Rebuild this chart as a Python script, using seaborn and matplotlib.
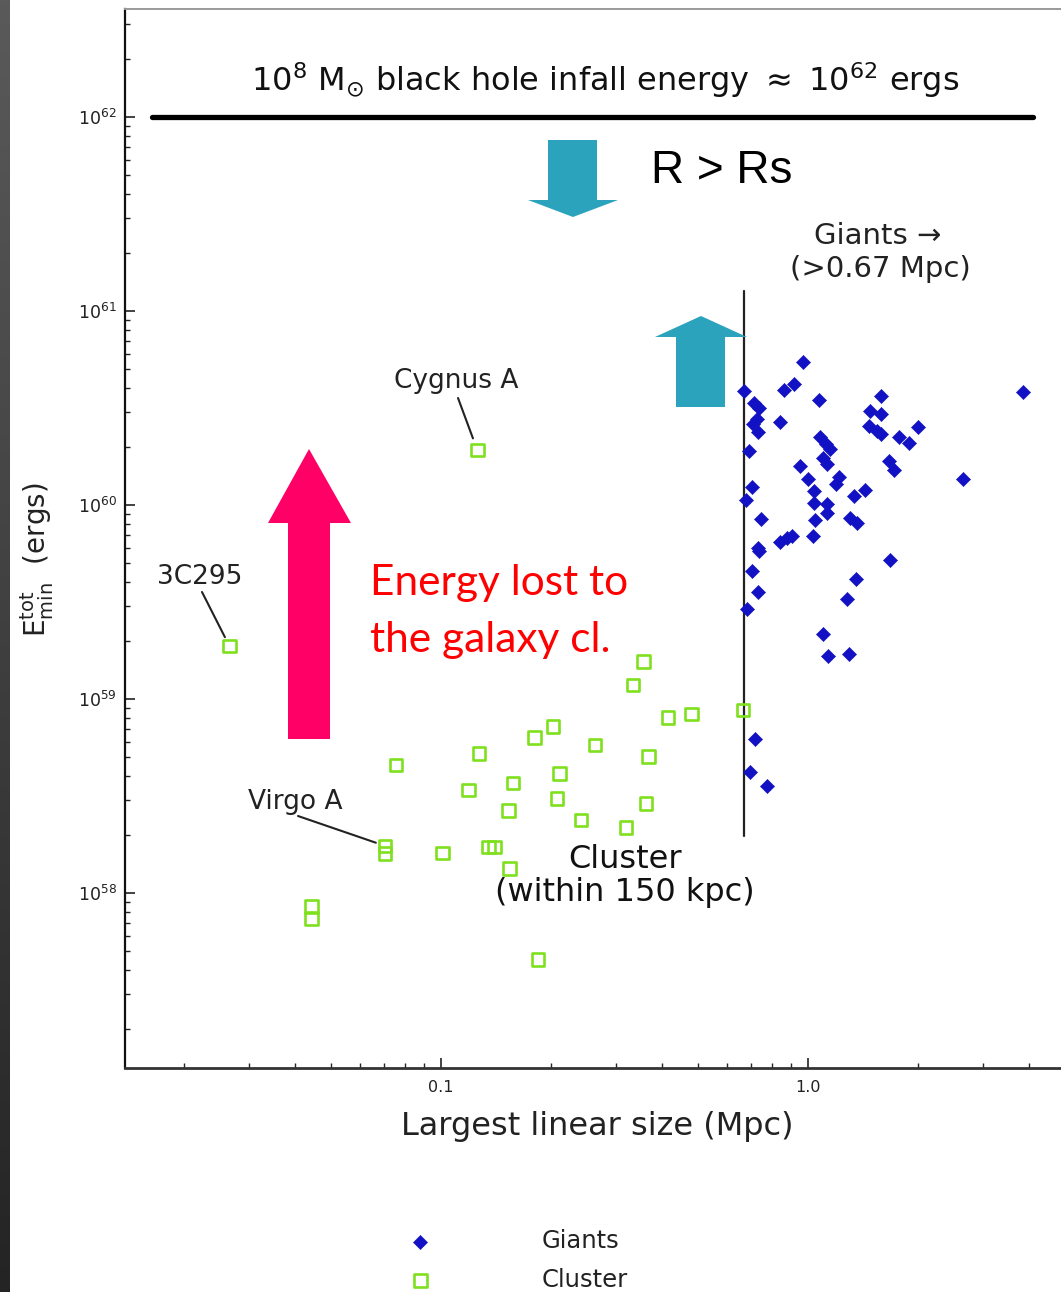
import numpy as np
import pandas as pd
import matplotlib
matplotlib.use("Agg")
import matplotlib.pyplot as plt
import seaborn as sns
from matplotlib.patches import Polygon
from matplotlib.ticker import (FixedLocator, FixedFormatter, LogLocator,
                               NullFormatter, LogFormatterMathtext)

# ---------------- data ----------------
giant_size = [0.97, 0.67, 0.86, 0.916, 1.073, 1.58, 3.86, 0.713, 0.737, 0.725,
              0.71, 0.732, 0.839, 1.48, 1.58, 1.47, 1.54, 1.58, 1.99, 1.77,
              1.89, 1.08, 1.12, 1.15, 0.692, 1.10, 1.13, 0.95, 1.665, 1.715,
              1.217, 1.19, 1.0, 2.65, 0.705, 0.678, 1.04, 1.335, 1.43, 1.04,
              1.125, 1.13, 0.745, 1.045, 1.30, 1.36, 0.839, 0.878, 0.906, 1.03,
              0.73, 0.737, 1.67, 0.702, 1.35, 0.732, 1.28, 0.681, 1.10, 1.136,
              1.29, 0.717, 0.695, 0.775]
giant_energy = [5.45e60, 3.87e60, 3.92e60, 4.2e60, 3.48e60, 3.65e60, 3.81e60, 3.34e60, 3.15e60, 2.77e60,
                2.62e60, 2.37e60, 2.67e60, 3.05e60, 2.93e60, 2.55e60, 2.42e60, 2.32e60, 2.53e60, 2.25e60,
                2.10e60, 2.23e60, 2.06e60, 1.94e60, 1.90e60, 1.74e60, 1.62e60, 1.59e60, 1.69e60, 1.51e60,
                1.40e60, 1.29e60, 1.37e60, 1.36e60, 1.24e60, 1.06e60, 1.18e60, 1.11e60, 1.19e60, 1.02e60,
                1.01e60, 9.06e59, 8.47e59, 8.37e59, 8.54e59, 8.11e59, 6.47e59, 6.78e59, 6.95e59, 6.92e59,
                5.98e59, 5.81e59, 5.21e59, 4.58e59, 4.16e59, 3.57e59, 3.28e59, 2.90e59, 2.16e59, 1.67e59,
                1.71e59, 6.22e58, 4.19e58, 3.57e58]

cluster_names = ["", "", "", "", "", "", "", "", "", "",
                 "", "", "", "", "", "", "", "", "Virgo A", "",
                 "", "", "", "", "", "", "", "", "Cygnus A", "3C295"]
cluster_size = [0.356, 0.334, 0.416, 0.482, 0.202, 0.180, 0.263, 0.367, 0.127, 0.0754,
                0.21, 0.119, 0.157, 0.207, 0.1526, 0.362, 0.241, 0.319, 0.0704, 0.0704,
                0.101, 0.1346, 0.140, 0.1535, 0.0444, 0.0444, 0.184, 0.665, 0.1256, 0.0265]
cluster_energy = [1.56e59, 1.18e59, 8.01e58, 8.37e58, 7.2e58, 6.35e58, 5.79e58, 5.04e58, 5.25e58, 4.57e58,
                  4.14e58, 3.4e58, 3.7e58, 3.08e58, 2.66e58, 2.9e58, 2.38e58, 2.17e58, 1.75e58, 1.6e58,
                  1.61e58, 1.73e58, 1.73e58, 1.34e58, 8.5e57, 7.4e57, 4.55e57, 8.77e58, 1.92e60, 1.88e59]

bh_energy = 1.0e62          # 10^8 Msun black hole infall energy
bh_line_x = [0.0163, 4.10]
giant_cut = 0.67            # Mpc
giant_cut_y = [1.97e58, 1.27e61]

x_ticks = [0.1, 1.0]
x_tick_labels = ["0.1", "1.0"]
y_ticks = [1e58, 1e59, 1e60, 1e61, 1e62]

# ---------------- figure ----------------
W, H = 1061, 1292
sns.set_theme(style="ticks")
plt.rcParams['font.family'] = ['DejaVu Sans']
plt.rcParams['mathtext.default'] = 'regular'

fig = plt.figure(figsize=(W / 100, H / 100), dpi=100, facecolor='white')

def fx(px):
    return px / W

def fy(py):
    return 1 - py / H

# dark strip at the left edge
sax = fig.add_axes([0, 0, 10 / W, 1])
grad = np.linspace(0, 1, 256).reshape(-1, 1)
sax.imshow(grad, aspect='auto', cmap=matplotlib.colors.LinearSegmentedColormap.from_list(
    'strip', ['#5a5a5a', '#242424']), extent=[0, 1, 0, 1], origin='upper')
sax.set_axis_off()

ax = fig.add_axes([fx(125), fy(1068), fx(1061) - fx(125), fy(9) - fy(1068)])
ax.set_facecolor('white')

ax.set_xscale('log')
ax.set_yscale('log')
ax.set_xlim(10 ** (-1.861), 10 ** 0.6894)
ax.set_ylim(10 ** 57.098, 10 ** 62.557)

giants = pd.DataFrame({"size": giant_size, "energy": giant_energy})
cluster = pd.DataFrame({"size": cluster_size, "energy": cluster_energy, "name": cluster_names})

blue = "#1212C4"
green = "#7FE01E"

# reference lines
ax.plot(bh_line_x, [bh_energy, bh_energy], color='black', lw=3.8, solid_capstyle='round', zorder=2)
ax.plot([giant_cut, giant_cut], giant_cut_y, color='#222222', lw=1.6, zorder=2)

sns.scatterplot(data=giants, x="size", y="energy", marker='D', s=52, color=blue,
                edgecolor=blue, linewidth=0.4, ax=ax, label="Giants", zorder=4)
sns.scatterplot(data=cluster, x="size", y="energy", marker='s', s=82,
                facecolor='none', edgecolor=green, linewidth=1.9, ax=ax,
                label="Cluster", zorder=4)
ax.collections[-1].set_facecolor('none')

ax.set_xlabel("")
ax.set_ylabel("")

# ticks
ax.xaxis.set_major_locator(FixedLocator(x_ticks))
ax.xaxis.set_major_formatter(FixedFormatter(x_tick_labels))
ax.xaxis.set_minor_locator(LogLocator(base=10, subs=np.arange(2, 10), numticks=20))
ax.xaxis.set_minor_formatter(NullFormatter())
ax.yaxis.set_major_locator(FixedLocator(y_ticks))
ax.yaxis.set_major_formatter(LogFormatterMathtext())
ax.yaxis.set_minor_locator(LogLocator(base=10, subs=np.arange(2, 10), numticks=20))
ax.yaxis.set_minor_formatter(NullFormatter())
ax.tick_params(which='major', direction='in', length=7, width=1.2, color='#222222',
               labelsize=12.5, labelcolor='#222222')
ax.tick_params(which='minor', direction='in', length=3.5, width=1.0, color='#222222')
ax.tick_params(axis='x', which='major', pad=9, labelsize=11.5)
ax.tick_params(axis='y', which='major', pad=6)

ax.spines['left'].set_color('#111111')
ax.spines['left'].set_linewidth(1.6)
ax.spines['bottom'].set_color('#333333')
ax.spines['bottom'].set_linewidth(2.0)
ax.spines['top'].set_color('#9a9a9a')
ax.spines['top'].set_linewidth(1.4)
ax.spines['right'].set_visible(False)

# legend below the plot
leg = ax.legend(loc='upper left', bbox_to_anchor=(fx(396), fy(1229)),
                bbox_transform=fig.transFigure, frameon=False, fontsize=17.5,
                handlelength=2.0, handletextpad=4.0, borderpad=0, borderaxespad=0,
                labelspacing=0.62, markerscale=1.0)
for t in leg.get_texts():
    t.set_color('#222222')

# axis labels
fig.text(fx(597), fy(1127), "Largest linear size (Mpc)", ha='center', va='center',
         fontsize=23, color='#222222')
fig.text(fx(37), fy(560), r"$E^{tot}_{min}$  (ergs)", ha='center', va='center',
         rotation=90, fontsize=20, color='#222222')

# annotations
fig.text(fx(605), fy(80), r"$10^{8}$ M$_{\odot}$ black hole infall energy $\approx$ $10^{62}$ ergs",
         ha='center', va='center', fontsize=23, color='#111111')
fig.text(fx(651), fy(171), "R > Rs", ha='left', va='center', fontsize=33,
         family=['Liberation Sans', 'DejaVu Sans'], color='black')
fig.text(fx(878), fy(236), "Giants \u2192", ha='center', va='center', fontsize=21, color='#222222')
fig.text(fx(880), fy(269), "(>0.67 Mpc)", ha='center', va='center', fontsize=21, color='#222222')
fig.text(fx(625), fy(860), "Cluster", ha='center', va='center', fontsize=23, color='#111111')
fig.text(fx(625), fy(893), "(within 150 kpc)", ha='center', va='center', fontsize=23, color='#111111')
fig.text(fx(370), fy(583), "Energy lost to", ha='left', va='center', fontsize=30.5,
         family=['Lato', 'DejaVu Sans'], color='#FF0000')
fig.text(fx(370), fy(640), "the galaxy cl.", ha='left', va='center', fontsize=30.5,
         family=['Lato', 'DejaVu Sans'], color='#FF0000')

# labelled sources
label_pos = {"Cygnus A": ((456, 381), (458, 398), 9),
             "3C295": ((200, 577), (202, 592), 7),
             "Virgo A": ((295, 802), (298, 816), 7)}
for name, ((tx, ty), (lx, ly), shrink) in label_pos.items():
    row = cluster[cluster["name"] == name].iloc[0]
    fig.text(fx(tx), fy(ty), name, ha='center', va='center', fontsize=19, color='#222222')
    ax.annotate('', xy=(row["size"], row["energy"]), xycoords='data',
                xytext=(fx(lx), fy(ly)), textcoords='figure fraction',
                arrowprops=dict(arrowstyle='-', lw=1.5, color='#222222',
                                shrinkA=0, shrinkB=shrink))

# block arrows
def block_arrow(shaft_l, shaft_r, tail_y, head_l, head_r, base_y, tip_x, tip_y, color):
    pts = [(shaft_l, tail_y), (shaft_r, tail_y), (shaft_r, base_y), (head_r, base_y),
           (tip_x, tip_y), (head_l, base_y), (shaft_l, base_y)]
    fig.add_artist(Polygon([(fx(a), fy(b)) for a, b in pts], closed=True,
                           transform=fig.transFigure, facecolor=color, edgecolor='none', zorder=5))

block_arrow(288, 330, 739, 268, 351, 523, 309, 449, '#FF0066')
block_arrow(548, 597, 140, 528, 618, 200, 573, 217, '#2BA3BD')
block_arrow(676, 725, 407, 655, 747, 337, 701, 316, '#2BA3BD')

fig.savefig("out.png", dpi=100, facecolor='white')
